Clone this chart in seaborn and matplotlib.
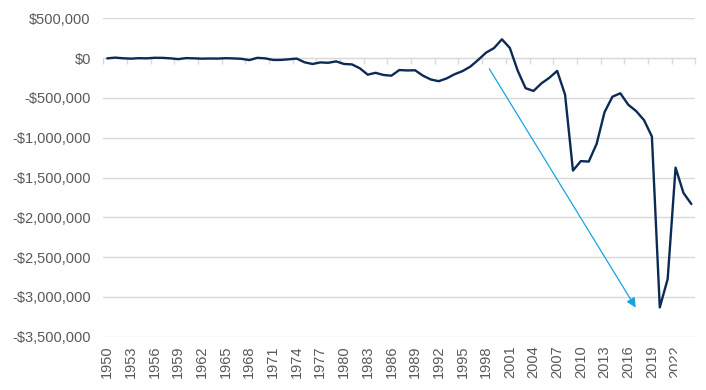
"""Annual net balance since 1950, with the downtrend arrow."""

import matplotlib

matplotlib.use("Agg")

import matplotlib.pyplot as plt
import matplotlib.ticker as mticker
import numpy as np
import seaborn as sns
from matplotlib.transforms import Bbox, TransformedBbox


years = list(range(1950, 2025))
net_balance = [
    -3_000, 6_000, -2_000, -7_000, -1_000, -3_000, 4_000, 3_000, -3_000, -13_000,
    0, -3_000, -7_000, -5_000, -6_000, -1_000, -4_000, -9_000, -25_000, 3_000,
    -3_000, -23_000, -23_000, -15_000, -6_000, -53_000, -74_000, -54_000, -59_000, -41_000,
    -74_000, -79_000, -128_000, -208_000, -185_000, -212_000, -221_000, -150_000, -155_000, -153_000,
    -221_000, -269_000, -290_000, -255_000, -203_000, -164_000, -107_000, -22_000, 69_000, 126_000,
    236_000, 128_000, -158_000, -378_000, -413_000, -318_000, -248_000, -161_000, -459_000, -1_413_000,
    -1_294_000, -1_300_000, -1_077_000, -680_000, -485_000, -442_000, -585_000, -665_000, -779_000, -984_000,
    -3_132_000, -2_775_000, -1_376_000, -1_694_000, -1_833_000,
]
y_ticks = list(range(-3_500_000, 500_001, 500_000))
label_years = years[::3]

# trend arrow, (year, value) of tail and head
arrow_tail = (1998.4, -134_000)
arrow_head = (2016.95, -3_134_000)

LINE_COLOR = "#0B2B55"
ARROW_COLOR = "#1AA3E0"
GRID_COLOR = "#D9D9D9"
TEXT_COLOR = "#595959"
FONT_SIZE = 10.5


def dollars(value, _pos):
    if value < 0:
        return f"-${abs(value):,.0f}"
    return f"${value:,.0f}"


sns.set_style("white")
plt.rcParams["font.family"] = ["Liberation Sans", "DejaVu Sans"]

figure = plt.figure(figsize=(7.06, 3.90), dpi=100)
axis = figure.add_axes([103.3 / 706, 1 - 336.7 / 390, 592 / 706, 318.4 / 390])

sns.lineplot(x=years, y=net_balance, color=LINE_COLOR, linewidth=1.7, ax=axis)

axis.set_xlim(years[0] - 0.5, years[-1] + 0.5)
axis.set_ylim(y_ticks[0], y_ticks[-1])
axis.set_yticks(y_ticks)
axis.yaxis.set_major_formatter(mticker.FuncFormatter(dollars))
axis.grid(axis="y", color=GRID_COLOR, linewidth=1)
axis.grid(axis="x", visible=False)
axis.set_axisbelow(True)
for spine in axis.spines.values():
    spine.set_visible(False)

axis.set_xticks(label_years[:-1])
axis.set_xticklabels([str(y) for y in label_years[:-1]], rotation=90)
axis.tick_params(axis="x", length=0, pad=6, labelsize=FONT_SIZE, labelcolor=TEXT_COLOR)
axis.tick_params(axis="y", length=0, pad=9, labelsize=FONT_SIZE, labelcolor=TEXT_COLOR)
axis.set_xlabel("")
axis.set_ylabel("")

# last label is cut off at the chart edge in the original
last_label = axis.annotate(
    str(label_years[-1]),
    xy=(label_years[-1], 0),
    xycoords=axis.get_xaxis_transform(),
    xytext=(0, -6),
    textcoords="offset points",
    rotation=90,
    ha="center",
    va="top",
    fontsize=FONT_SIZE,
    color=TEXT_COLOR,
    annotation_clip=False,
)
last_label.set_clip_box(TransformedBbox(Bbox.from_extents(0, 0, 677 / 706, 1), figure.transFigure))
last_label.set_clip_on(True)

# category axis crosses at zero, tick marks every third year
zero_frac = (0 - y_ticks[0]) / (y_ticks[-1] - y_ticks[0])
zero_axis = axis.secondary_xaxis(zero_frac)
zero_axis.set_xticks(np.arange(years[0] - 0.5, years[-1] + 1, 3))
zero_axis.tick_params(axis="x", direction="in", length=4, width=1, color=GRID_COLOR,
                      labeltop=False, labelbottom=False)
for spine in zero_axis.spines.values():
    spine.set_color(GRID_COLOR)

axis.annotate(
    "",
    xy=arrow_head,
    xytext=arrow_tail,
    arrowprops=dict(arrowstyle="-|>", color=ARROW_COLOR, lw=0.9, mutation_scale=14, shrinkA=0, shrinkB=0),
)

figure.savefig("out.png", dpi=100)
